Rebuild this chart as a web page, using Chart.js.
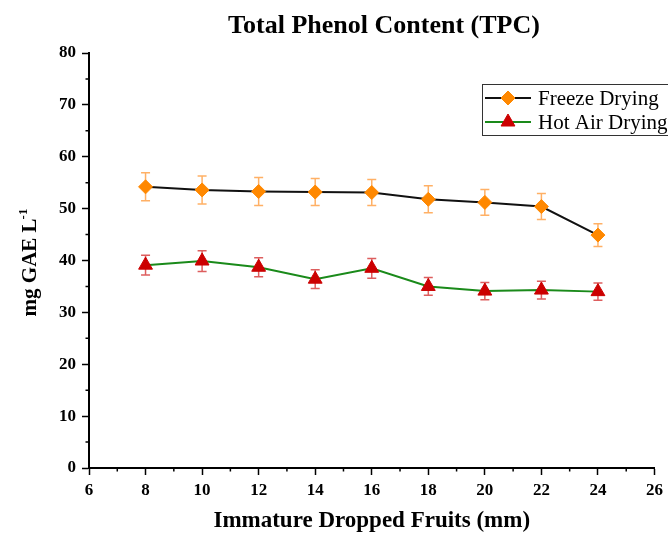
<!DOCTYPE html>
<html>
<head>
<meta charset="utf-8">
<script src="https://cdn.jsdelivr.net/npm/chart.js@4/dist/chart.umd.min.js"></script>
<style>
  body { margin: 0; background: #fff; }
  #wrap { width: 668px; height: 535px; }
</style>
</head>
<body>
<div id="wrap"><canvas id="tpcChart" width="668" height="535"></canvas></div>
<script>
/* ============================
   DATA
============================ */

const sizesMm = [8, 10, 12, 14, 16, 18, 20, 22, 24];

const freezeDrying = [54.2, 53.6, 53.3, 53.2, 53.1, 51.8, 51.2, 50.4, 44.9];
const freezeErr    = [2.7, 2.7, 2.7, 2.6, 2.5, 2.6, 2.5, 2.5, 2.2];

const hotAirDrying = [39.1, 39.9, 38.7, 36.4, 38.5, 35.0, 34.1, 34.3, 34.0];
const hotAirErr    = [1.9, 2.0, 1.85, 1.8, 1.9, 1.7, 1.65, 1.7, 1.65];

const xMinorTicks = [7, 9, 11, 13, 15, 17, 19, 21, 23, 25];
const yMinorTicks = [5, 15, 25, 35, 45, 55, 65, 75];

const seriesNames = ["Freeze Drying", "Hot Air Drying"];

const SERIF = "'Liberation Serif', 'Times New Roman', serif";

/* ============================
   PLUGINS
============================ */

// error bars, drawn under the markers
const errorBars = {
  id: "errorBars",
  beforeDatasetsDraw(chart){
    const ctx = chart.ctx;
    const xs = chart.scales.x, ys = chart.scales.y;
    chart.data.datasets.forEach(ds => {
      if(!ds.errors) return;
      ctx.save();
      ctx.strokeStyle = ds.errorColor;
      ctx.lineWidth = 1.5;
      ds.data.forEach((p, i) => {
        const x = xs.getPixelForValue(p.x);
        const top = ys.getPixelForValue(p.y + ds.errors[i]);
        const bot = ys.getPixelForValue(p.y - ds.errors[i]);
        ctx.beginPath();
        ctx.moveTo(x, top); ctx.lineTo(x, bot);
        ctx.moveTo(x - 4.5, top); ctx.lineTo(x + 4.5, top);
        ctx.moveTo(x - 4.5, bot); ctx.lineTo(x + 4.5, bot);
        ctx.stroke();
      });
      ctx.restore();
    });
  }
};

// minor ticks + title + y title with superscript + boxed legend
const decorations = {
  id: "decorations",
  afterDraw(chart){
    const ctx = chart.ctx;
    const xs = chart.scales.x, ys = chart.scales.y;
    const area = chart.chartArea;

    ctx.save();
    ctx.strokeStyle = "#000";
    ctx.lineWidth = 1.5;
    ctx.beginPath();
    xMinorTicks.forEach(v => {
      const x = xs.getPixelForValue(v);
      ctx.moveTo(x, area.bottom); ctx.lineTo(x, area.bottom + 3.5);
    });
    yMinorTicks.forEach(v => {
      const y = ys.getPixelForValue(v);
      ctx.moveTo(area.left, y); ctx.lineTo(area.left - 3.5, y);
    });
    ctx.stroke();

    // title
    ctx.fillStyle = "#000";
    ctx.font = "bold 26px " + SERIF;
    ctx.textAlign = "center";
    ctx.textBaseline = "middle";
    ctx.fillText("Total Phenol Content (TPC)", 384, 26);

    // y title, rotated, with a real superscript
    ctx.save();
    ctx.translate(36, (area.top + area.bottom) / 2 + 2);
    ctx.rotate(-Math.PI / 2);
    ctx.textBaseline = "alphabetic";
    ctx.textAlign = "left";
    const mainFont = "bold 21px " + SERIF;
    const supFont = "bold 13px " + SERIF;
    ctx.font = mainFont;
    const mainTxt = "mg GAE L";
    const mw = ctx.measureText(mainTxt).width - 1;
    ctx.font = supFont;
    const supTxt = "-1";
    const sw = ctx.measureText(supTxt).width;
    const start = -(mw + sw) / 2;
    ctx.font = mainFont;
    ctx.fillText(mainTxt, start, 0);
    ctx.font = supFont;
    ctx.fillText(supTxt, start + mw, -9);
    ctx.restore();

    // legend
    const lx = 482, ly = 84, lw = 200, lh = 51;
    ctx.lineWidth = 1;
    ctx.strokeStyle = "#333";
    ctx.strokeRect(lx + 0.5, ly + 0.5, lw, lh);
    ctx.font = "21px " + SERIF;
    ctx.textAlign = "left";
    ctx.textBaseline = "middle";
    chart.data.datasets.forEach((ds, i) => {
      const y = ly + 14 + i * 24;
      ctx.strokeStyle = ds.borderColor;
      ctx.lineWidth = 2;
      ctx.beginPath();
      ctx.moveTo(lx + 3, y); ctx.lineTo(lx + 49, y);
      ctx.stroke();
      ctx.fillStyle = ds.pointBackgroundColor;
      ctx.strokeStyle = ds.pointBorderColor;
      ctx.lineWidth = 1;
      Chart.helpers.drawPoint(ctx, {
        pointStyle: ds.pointStyle,
        radius: ds.pointRadius,
        borderWidth: 1,
        rotation: 0
      }, lx + 26, y);
      ctx.fillStyle = "#000";
      ctx.fillText(ds.label, lx + 56, y + 1);
    });
    ctx.restore();
  }
};

/* ============================
   CHART
============================ */

function toPoints(vals){
  return sizesMm.map((x, i) => ({ x: x, y: vals[i] }));
}

const canvas = document.getElementById("tpcChart");

window.tpcChart = new Chart(canvas, {
  type: "line",
  data: {
    datasets: [{
      label: seriesNames[0],
      data: toPoints(freezeDrying),
      errors: freezeErr,
      errorColor: "rgba(255,150,50,0.75)",
      borderColor: "#111",
      borderWidth: 2,
      pointStyle: "rectRot",
      pointRadius: 7,
      pointBackgroundColor: "#ff8800",
      pointBorderColor: "#ff8800",
      pointBorderWidth: 1,
      tension: 0
    }, {
      label: seriesNames[1],
      data: toPoints(hotAirDrying),
      errors: hotAirErr,
      errorColor: "rgba(210,40,40,0.75)",
      borderColor: "#1a8a1a",
      borderWidth: 2,
      pointStyle: "triangle",
      pointRadius: 8,
      pointBackgroundColor: "#cc0000",
      pointBorderColor: "#cc0000",
      pointBorderWidth: 1,
      tension: 0
    }]
  },
  options: {
    responsive: false,
    animation: false,
    layout: {
      padding: { top: 53, right: 12, bottom: 0, left: 0 }
    },
    scales: {
      x: {
        type: "linear",
        min: 6,
        max: 26,
        afterFit(scale){ scale.height = 67; },
        ticks: {
          stepSize: 2,
          color: "#000",
          padding: 5,
          font: { family: SERIF, size: 17, weight: "bold" }
        },
        grid: {
          drawOnChartArea: false,
          drawTicks: true,
          tickLength: 7,
          tickColor: "#000",
          tickWidth: 1.5
        },
        border: { color: "#000", width: 2 },
        title: {
          display: true,
          text: "Immature Dropped Fruits (mm)",
          color: "#000",
          padding: { top: 0, bottom: 0 },
          font: { family: SERIF, size: 23, weight: "bold" }
        }
      },
      y: {
        min: 0,
        max: 80,
        afterFit(scale){ scale.width = 89; },
        ticks: {
          stepSize: 10,
          color: "#000",
          padding: 6,
          font: { family: SERIF, size: 17, weight: "bold" }
        },
        grid: {
          drawOnChartArea: false,
          drawTicks: true,
          tickLength: 7,
          tickColor: "#000",
          tickWidth: 1.5
        },
        border: { color: "#000", width: 2 },
        title: { display: false }
      }
    },
    plugins: {
      legend: { display: false },
      title: { display: false },
      tooltip: { enabled: false }
    }
  },
  plugins: [errorBars, decorations]
});
</script>
</body>
</html>
